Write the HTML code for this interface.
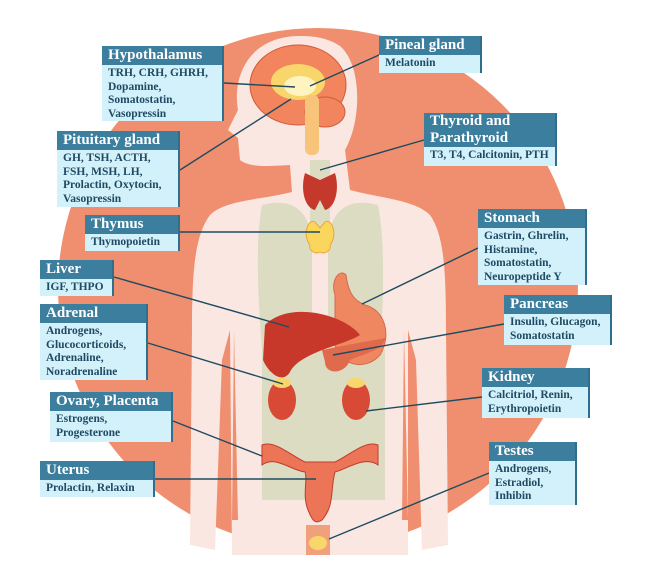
<!DOCTYPE html>
<html><head><meta charset="utf-8"><style>
body{margin:0;width:649px;height:576px;background:#fff;overflow:hidden;position:relative;font-family:"Liberation Serif",serif}
svg{position:absolute;left:0;top:0}
.b{position:absolute;background:#d3f1fa;color:#1f4a63;font-weight:bold;font-size:11.5px;line-height:13.5px;border-right:2px solid #2f6f8d;box-sizing:border-box;white-space:nowrap}
.b .h{background:#3c7e9e;color:#fff;font-size:15px;line-height:19px;padding:0 6px}
.b .t{padding:2px 6px 2px}
</style></head><body>
<svg width="649" height="576" viewBox="0 0 649 576">
<circle cx="318" cy="288" r="260" fill="#f08f6f"/>
<rect x="0" y="555" width="649" height="24" fill="#fff"/>
<path d="M300 36 C250 36 232 75 238 110 L228 130 L238 138 L240 160 C250 168 270 166 290 165 L292 192 C260 200 225 200 210 215 C195 235 192 270 192 330 L190 545 L215 550 L222 360 L230 330 L232 555 L408 555 L408 330 L416 360 L422 550 L448 545 L446 330 C446 270 444 235 430 215 C415 200 380 198 350 190 L345 150 C362 120 362 65 340 46 C328 38 315 36 300 36Z" fill="#fbe7e2"/>
<path d="M234 330 L238 520 L232 520Z M404 330 L402 520 L408 520Z" fill="#f08f6f"/>
<path d="M262 205 C300 195 310 220 312 240 L312 350 L262 350 C258 300 255 240 262 205Z" fill="#dcdcc3"/>
<path d="M378 205 C340 195 330 220 328 240 L328 350 L380 350 C384 300 385 240 378 205Z" fill="#dcdcc3"/>
<rect x="310" y="160" width="20" height="70" fill="#dcdcc3"/>
<path d="M262 420 L262 350 L385 350 L385 500 L262 500Z" fill="#dcdcc3"/>
<ellipse cx="298" cy="85" rx="48" ry="40" fill="#f2845e" stroke="#d05a3a"/>
<ellipse cx="298" cy="82" rx="27" ry="18" fill="#f8d66b"/>
<ellipse cx="300" cy="86" rx="16" ry="10" fill="#fff3c0"/>
<ellipse cx="325" cy="112" rx="20" ry="15" fill="#f2845e" stroke="#d05a3a"/>
<rect x="305" y="95" width="14" height="60" rx="6" fill="#f8c47a"/>
<path d="M305 173 C300 190 305 208 315 210 L320 200 L325 210 C335 208 340 190 335 173 L320 180Z" fill="#c4392c"/>
<path d="M310 245 C302 235 308 218 315 222 L320 228 L325 222 C332 218 338 235 330 245 C332 250 325 255 320 252 C315 255 308 250 310 245Z" fill="#fbd65c" stroke="#eaa63a"/>
<path d="M335 295 C330 280 340 268 346 275 C348 290 352 300 365 305 C385 310 392 335 380 355 C365 372 340 365 335 345Z" fill="#ef8860" stroke="#d56a4c"/>
<path d="M265 325 C290 300 345 315 360 335 C345 345 300 352 290 372 C282 385 268 372 263 360Z" fill="#c8382a"/>
<path d="M322 350 C345 345 375 340 385 338 C385 350 360 355 350 360 C345 375 325 375 325 362Z" fill="#e06a4c"/>
<ellipse cx="282" cy="400" rx="14" ry="20" fill="#d84a36"/>
<ellipse cx="356" cy="400" rx="14" ry="20" fill="#d84a36"/>
<ellipse cx="282" cy="383" rx="9" ry="5" fill="#f8d66b"/>
<ellipse cx="356" cy="383" rx="9" ry="5" fill="#f8d66b"/>
<path d="M262 445 C275 440 290 455 305 462 C310 462 330 462 335 462 C350 455 365 440 378 445 L378 465 C365 455 345 470 335 472 C330 490 335 505 322 520 C315 525 312 520 308 510 C302 495 308 480 305 472 C290 470 275 455 262 465Z" fill="#ec7557" stroke="#c03a2a"/>
<path d="M306 525 L330 525 L330 555 L306 555Z" fill="#f0a07a"/>
<ellipse cx="318" cy="543" rx="9" ry="7" fill="#f8d66b"/>
<g stroke="#1e4b60" stroke-width="1.4" fill="none">
<line x1="224" y1="83" x2="295" y2="87"/>
<line x1="379" y1="55" x2="310" y2="86"/>
<line x1="180" y1="170" x2="291" y2="99"/>
<line x1="424" y1="140" x2="320" y2="170"/>
<line x1="180" y1="232" x2="320" y2="232"/>
<line x1="478" y1="248" x2="362" y2="304"/>
<line x1="114" y1="277" x2="289" y2="327"/>
<line x1="504" y1="324" x2="333" y2="355"/>
<line x1="148" y1="343" x2="283" y2="384"/>
<line x1="482" y1="397" x2="366" y2="411"/>
<line x1="173" y1="421" x2="262" y2="456"/>
<line x1="155" y1="479" x2="316" y2="479"/>
<line x1="489" y1="473" x2="329" y2="539"/>
</g>
</svg>
<div class="b" style="left:102px;top:46px;width:122px;height:75px"><div class="h">Hypothalamus</div><div class="t">TRH, CRH, GHRH,<br>Dopamine,<br>Somatostatin,<br>Vasopressin</div></div>
<div class="b" style="left:379px;top:36px;width:103px;height:37px"><div class="h">Pineal gland</div><div class="t">Melatonin</div></div>
<div class="b" style="left:57px;top:131px;width:123px;height:76px"><div class="h">Pituitary gland</div><div class="t">GH, TSH, ACTH,<br>FSH, MSH, LH,<br>Prolactin, Oxytocin,<br>Vasopressin</div></div>
<div class="b" style="left:424px;top:113px;width:133px;height:53px"><div class="h" style="line-height:17px">Thyroid and<br>Parathyroid</div><div class="t">T3, T4, Calcitonin, PTH</div></div>
<div class="b" style="left:85px;top:215px;width:95px;height:36px"><div class="h">Thymus</div><div class="t">Thymopoietin</div></div>
<div class="b" style="left:478px;top:209px;width:109px;height:76px"><div class="h">Stomach</div><div class="t">Gastrin, Ghrelin,<br>Histamine,<br>Somatostatin,<br>Neuropeptide Y</div></div>
<div class="b" style="left:40px;top:260px;width:74px;height:36px"><div class="h">Liver</div><div class="t">IGF, THPO</div></div>
<div class="b" style="left:504px;top:295px;width:108px;height:50px"><div class="h">Pancreas</div><div class="t">Insulin, Glucagon,<br>Somatostatin</div></div>
<div class="b" style="left:40px;top:304px;width:108px;height:76px"><div class="h">Adrenal</div><div class="t">Androgens,<br>Glucocorticoids,<br>Adrenaline,<br>Noradrenaline</div></div>
<div class="b" style="left:482px;top:368px;width:108px;height:50px"><div class="h">Kidney</div><div class="t">Calcitriol, Renin,<br>Erythropoietin</div></div>
<div class="b" style="left:50px;top:392px;width:123px;height:50px"><div class="h">Ovary, Placenta</div><div class="t">Estrogens,<br>Progesterone</div></div>
<div class="b" style="left:489px;top:442px;width:88px;height:63px"><div class="h">Testes</div><div class="t">Androgens,<br>Estradiol,<br>Inhibin</div></div>
<div class="b" style="left:40px;top:461px;width:115px;height:36px"><div class="h">Uterus</div><div class="t">Prolactin, Relaxin</div></div>
</body></html>
